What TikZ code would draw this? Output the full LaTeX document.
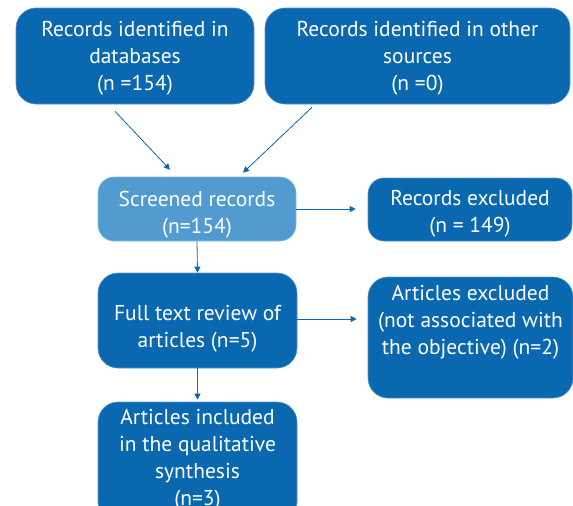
\documentclass[tikz,border=0pt]{standalone}
\usepackage{fontspec}
\setmainfont{PT Sans}
\usetikzlibrary{arrows.meta}
\definecolor{dblue}{HTML}{0A68B0}
\definecolor{lblue}{HTML}{519BD0}
\tikzset{
  box/.style={fill=dblue, draw=dblue!70!white, line width=0.6pt, rounded corners=20pt, inner sep=0pt},
  lbl/.style={text=white, align=center, inner sep=0pt, font=\fontsize{21.5}{27}\selectfont},
  arr/.style={draw=dblue, line width=0.8pt, -{Triangle[length=6pt,width=6pt]}}
}
\begin{document}
\begin{tikzpicture}[x=1pt,y=-1pt]
\useasboundingbox (0,0) rectangle (573,506);
\clip (0,0) rectangle (573,506);
\node[box, minimum width=238pt, minimum height=96pt] (b1) at (135,56) {};
\node[lbl] (b1t) at (135,58) {Records identified in\\databases\\(n =154)};
\node[box, minimum width=305pt, minimum height=96pt] (b2) at (417.5,56) {};
\node[lbl] (b2t) at (417.5,58) {Records identified in other\\sources\\(n =0)};
\node[box, fill=lblue, draw=lblue!70!white, minimum width=198pt, minimum height=64pt, rounded corners=16pt] (scr) at (197,209) {};
\node[lbl] (scrt) at (197,214.5) {Screened records\\(n=154)};
\node[box, minimum width=204pt, minimum height=63pt, rounded corners=16pt] (rex) at (470,209.5) {};
\node[lbl] (rext) at (470,214) {Records excluded\\(n = 149)};
\node[box, minimum width=199pt, minimum height=95pt] (ft) at (197.5,320.5) {};
\node[lbl] (ftt) at (197.5,328.5) {Full text review of\\articles (n=5)};
\node[box, minimum width=205pt, minimum height=121pt] (aex) at (470.5,337.5) {};
\node[lbl, anchor=north] (aext) at (470.5,285) {Articles excluded\\(not associated with\\the objective) (n=2)};
\node[box, minimum width=199pt, minimum height=120pt] (inc) at (197.5,462) {};
\node[lbl] (inct) at (197.5,460) {Articles included\\in the qualitative\\synthesis\\(n=3)};
\draw[arr] ([shift={(-20,7)}]b1.south) -- ([shift={(-27,-7)}]scr.north);
\draw[arr] ([shift={(-105.5,3)}]b2.south) -- ([shift={(46,-4)}]scr.north);
\draw[arr, shorten >=12pt] (scr.east) -- (scr.east -| rex.west);
\draw[arr] (scr.south) -- (ft.north);
\draw[arr, shorten >=11pt] ([yshift=1.5pt]ft.east) -- ([yshift=1.5pt]ft.east -| aex.west);
\draw[arr, shorten >=2pt] (ft.south) -- (inc.north);
\end{tikzpicture}
\end{document}
